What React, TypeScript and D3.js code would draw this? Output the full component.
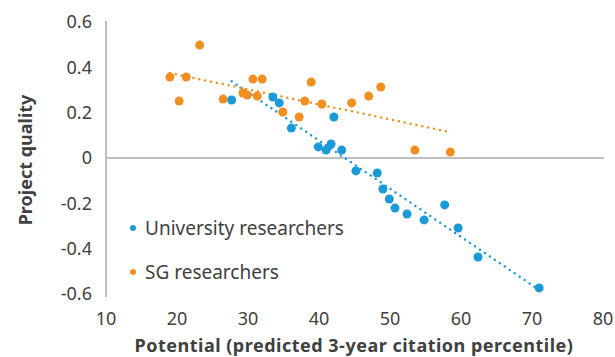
import * as d3 from "d3";
import { useEffect, useRef } from "react";

const seriesNames = ["University researchers", "SG researchers"];
const colors = ["#1b9ad7", "#f18f1f"];

const uniX = [27.7, 33.5, 34.4, 36.1, 42.1, 39.9, 41.0, 41.7, 43.2, 45.2, 48.2, 49.0, 49.9, 50.7, 52.4, 54.8, 57.7, 59.6, 62.4, 71.0];
const uniY = [0.256, 0.269, 0.243, 0.132, 0.181, 0.049, 0.035, 0.062, 0.035, -0.057, -0.066, -0.137, -0.181, -0.221, -0.247, -0.273, -0.207, -0.309, -0.437, -0.573];

const sgX = [19.0, 21.3, 20.3, 23.2, 26.5, 29.3, 29.9, 30.7, 32.0, 31.3, 34.9, 37.2, 38.0, 38.9, 40.4, 44.6, 47.0, 48.7, 53.5, 58.5];
const sgY = [0.357, 0.357, 0.251, 0.498, 0.26, 0.287, 0.278, 0.348, 0.348, 0.273, 0.203, 0.181, 0.251, 0.335, 0.238, 0.243, 0.273, 0.313, 0.035, 0.026];

const xTicks = [10, 20, 30, 40, 50, 60, 70, 80];
const yTicks = [0.6, 0.4, 0.2, 0, -0.2, -0.4, -0.6];

function fit(xs: number[], ys: number[]) {
  const mx = d3.mean(xs)!;
  const my = d3.mean(ys)!;
  let num = 0;
  let den = 0;
  xs.forEach((x, i) => {
    num += (x - mx) * (ys[i] - my);
    den += (x - mx) * (x - mx);
  });
  const b = num / den;
  return { a: my - b * mx, b };
}

export default function App() {
  const ref = useRef<SVGSVGElement>(null);

  useEffect(() => {
    const svg = d3.select(ref.current);
    svg.selectAll("*").remove();

    const x = d3.scaleLinear().domain([10, 80]).range([106, 603]);
    const y = d3.scaleLinear().domain([-0.6, 0.6]).range([294, 22]);
    const font = "'Noto Sans', sans-serif";
    const textColor = "#404040";

    // axes
    svg.append("line")
      .attr("x1", x(10)).attr("x2", x(10))
      .attr("y1", y(0.6) - 1).attr("y2", y(-0.6) + 3)
      .attr("stroke", "#bfbfbf").attr("stroke-width", 2);
    svg.append("line")
      .attr("x1", x(10)).attr("x2", x(80) + 1)
      .attr("y1", y(0)).attr("y2", y(0))
      .attr("stroke", "#bfbfbf").attr("stroke-width", 2);

    svg.selectAll("text.ytick")
      .data(yTicks)
      .enter()
      .append("text")
      .attr("class", "ytick")
      .attr("x", 92)
      .attr("y", (d) => y(d))
      .attr("dy", "0.35em")
      .attr("text-anchor", "end")
      .attr("font-family", font)
      .attr("font-size", 18)
      .attr("fill", textColor)
      .text((d) => (d === 0 ? "0" : d.toFixed(1)));

    svg.selectAll("text.xtick")
      .data(xTicks)
      .enter()
      .append("text")
      .attr("class", "xtick")
      .attr("x", (d) => x(d))
      .attr("y", 325)
      .attr("text-anchor", "middle")
      .attr("font-family", font)
      .attr("font-size", 18)
      .attr("fill", textColor)
      .text((d) => d);

    svg.append("text")
      .attr("x", 354)
      .attr("y", 352)
      .attr("text-anchor", "middle")
      .attr("font-family", font)
      .attr("font-size", 18)
      .attr("font-weight", "bold")
      .attr("letter-spacing", 0.5)
      .attr("fill", textColor)
      .text("Potential (predicted 3-year citation percentile)");

    svg.append("text")
      .attr("transform", "translate(32,160)rotate(-90)")
      .attr("text-anchor", "middle")
      .attr("font-family", font)
      .attr("font-size", 18)
      .attr("font-weight", "bold")
      .attr("fill", textColor)
      .text("Project quality");

    const series = [
      { xs: uniX, ys: uniY },
      { xs: sgX, ys: sgY },
    ];

    series.forEach((s, k) => {
      const { a, b } = fit(s.xs, s.ys);
      const [x0, x1] = d3.extent(s.xs) as [number, number];
      svg.append("line")
        .attr("x1", x(x0)).attr("y1", y(a + b * x0))
        .attr("x2", x(x1)).attr("y2", y(a + b * x1))
        .attr("stroke", colors[k])
        .attr("stroke-width", 2.5)
        .attr("stroke-linecap", "round")
        .attr("stroke-dasharray", "0 6");
    });

    series.forEach((s, k) => {
      svg.selectAll(`circle.s${k}`)
        .data(s.xs)
        .enter()
        .append("circle")
        .attr("class", `s${k}`)
        .attr("cx", (d) => x(d))
        .attr("cy", (d, i) => y(s.ys[i]))
        .attr("r", 4.5)
        .attr("fill", colors[k]);
    });

    // legend
    const legend = svg.append("g");
    seriesNames.forEach((name, k) => {
      const ly = 228 + k * 44;
      legend.append("circle")
        .attr("cx", 133).attr("cy", ly).attr("r", 3)
        .attr("fill", colors[k]);
      legend.append("text")
        .attr("x", 145).attr("y", ly)
        .attr("dy", "0.35em")
        .attr("font-family", font)
        .attr("font-size", 19)
        .attr("fill", textColor)
        .text(name);
    });
  }, []);

  return <svg ref={ref} width={615} height={357} style={{ position: "absolute", left: 0, top: 0 }} />;
}
